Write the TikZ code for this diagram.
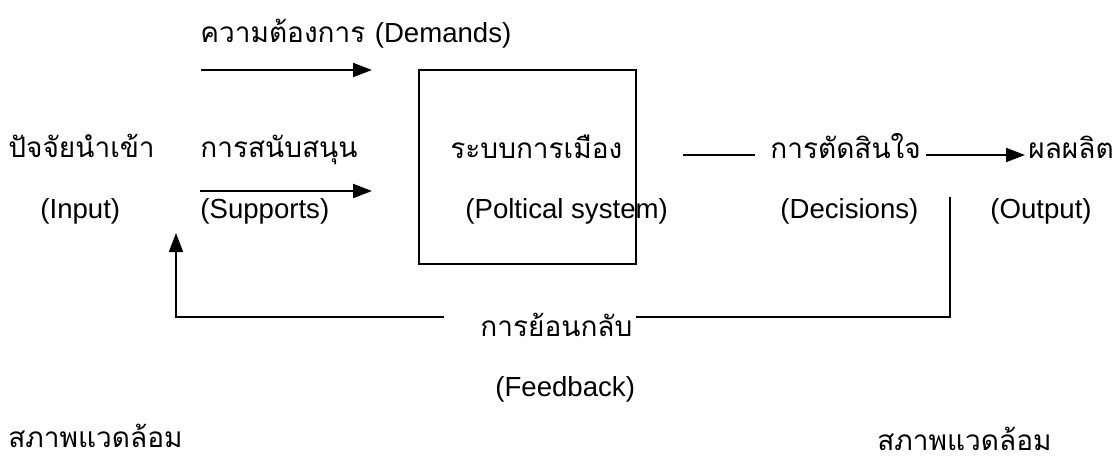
\documentclass[tikz,border=0pt]{standalone}
\usepackage{fontspec}
\setmainfont{Liberation Sans}
\newfontfamily\thaifont[Script=Thai]{Loma}
\usetikzlibrary{arrows.meta}

\begin{document}
\begin{tikzpicture}[x=0.5pt,y=-0.5pt,
		line/.style={line width=1pt},
		flow/.style={line width=1pt,-{Triangle[length=9.5pt,width=7pt]}},
		th/.style={anchor=base west,inner sep=0pt,font=\thaifont\fontsize{14}{16}\selectfont},
		en/.style={anchor=base west,inner sep=0pt,font=\fontsize{13.8}{16}\selectfont}]
	%%%%% START %%%%%
	\useasboundingbox (0,0) rectangle (1116,461);
	
	% inputs
	\node[th] (demands) at (200,42) {ความต้องการ {\rmfamily\fontsize{13.8}{16}\selectfont(Demands)}};
	\coordinate (dmdA) at (201,70);
	\coordinate (dmdB) at (372,70);
	\draw[flow] (dmdA) -- (dmdB);
	
	\node[th] (inputTh) at (8,157) {ปัจจัยนำเข้า};
	\node[en] (inputEn) at (40,218) {(Input)};
	\node[th] (supTh) at (200,157) {การสนับสนุน};
	\node[en] (supEn) at (200,218) {(Supports)};
	\coordinate (supA) at (200,191);
	\coordinate (supB) at (372,191);
	\draw[flow] (supA) -- (supB);
	
	% system
	\coordinate (boxA) at (419,70);
	\coordinate (boxB) at (636,264);
	\draw[line] (boxA) rectangle (boxB);
	\node[th] (sysTh) at (450,158) {ระบบการเมือง};
	\node[en] (sysEn) at (465,218) {(Poltical system)};
	
	% outputs
	\node[th] (decTh) at (770,158) {การตัดสินใจ};
	\node[en] (decEn) at (780,218) {(Decisions)};
	\node[th] (outTh) at (1028,158) {ผลผลิต};
	\node[en] (outEn) at (990,218) {(Output)};
	\coordinate (decL) at (683,155);
	\draw[line] (decL) -- ([xshift=-7.5pt]decTh.west |- decL);
	\draw[flow] ([xshift=2.5pt]decTh.east |- decL) -- ([xshift=-1.5pt]outTh.west |- decL);
	
	% feedback
	\node[th] (fbTh) at (480,336) {การย้อนกลับ};
	\node[en] (fbEn) at (495,396) {(Feedback)};
	\coordinate (fbTop) at (950,197);
	\coordinate (fbLine) at (0,317);
	\coordinate (fbTip) at (176,233);
	\draw[line] (fbTop) |- ([xshift=1.5pt]fbTh.east |- fbLine);
	\draw[flow] ([xshift=-18pt]fbTh.west |- fbLine) -| (fbTip);
	
	% environment
	\node[th] (envL) at (8,447) {สภาพแวดล้อม};
	\node[th] (envR) at (877,450) {สภาพแวดล้อม};
	%%%%% END %%%%%
\end{tikzpicture}
\end{document}
